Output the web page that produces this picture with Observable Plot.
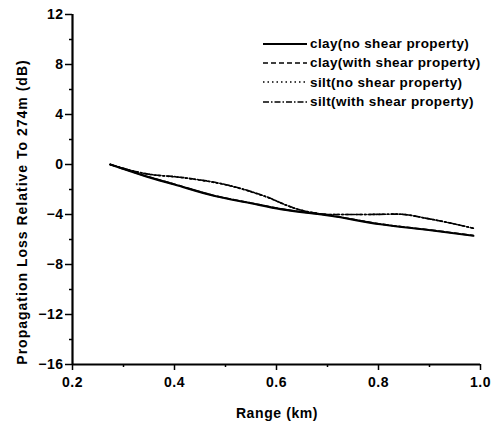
<!DOCTYPE html>
<html>
<head>
<meta charset="utf-8">
<script src="https://cdn.jsdelivr.net/npm/d3@7"></script>
<script src="https://cdn.jsdelivr.net/npm/@observablehq/plot@0.6"></script>
<style>
  html, body { margin: 0; padding: 0; background: #fff; }
  #wrap { position: relative; width: 495px; height: 423px; font-family: "Liberation Sans", Arial, sans-serif; color: #000; }
  #ylab { position: absolute; left: 22px; top: 212px; transform: translate(-50%, -50%) rotate(-90deg); white-space: nowrap; font-size: 14px; font-weight: bold; letter-spacing: 1px; }
  #xlab { position: absolute; left: 277px; top: 413px; transform: translate(-50%, -50%); white-space: nowrap; font-size: 14px; font-weight: bold; letter-spacing: 0.6px; }
  #legend { position: absolute; left: 262px; top: 34px; font-size: 13.5px; font-weight: bold; line-height: 19.3px; letter-spacing: 0.4px; }
  #legend div { display: flex; align-items: center; }
  #legend svg { margin-right: 2px; }
</style>
</head>
<body>
<div id="wrap">
  <div id="chart"></div>
  <div id="ylab"></div>
  <div id="xlab"></div>
  <div id="legend"></div>
</div>
<script>
// Data
const seriesNames = ["clay(no shear property)", "clay(with shear property)", "silt(no shear property)", "silt(with shear property)"];
const rangeClay = [0.274, 0.346, 0.40, 0.477, 0.55, 0.608, 0.706, 0.804, 0.902, 0.986];
const lossClayNoShear = [0, -0.97, -1.6, -2.5, -3.1, -3.57, -4.1, -4.78, -5.26, -5.7];
const lossClayShear = [0, -0.95, -1.58, -2.48, -3.08, -3.55, -4.08, -4.76, -5.24, -5.68];
const rangeSilt = [0.274, 0.346, 0.412, 0.51, 0.575, 0.641, 0.706, 0.771, 0.837, 0.902, 0.986];
const lossSiltNoShear = [0, -0.76, -1.04, -1.72, -2.52, -3.57, -4.0, -4.0, -3.97, -4.37, -5.1];
const lossSiltShear = [0, -0.75, -1.02, -1.7, -2.5, -3.57, -4.0, -4.0, -3.97, -4.37, -5.1];
const xTicks = [0.2, 0.4, 0.6, 0.8, 1.0];
const xMinorTicks = [0.3, 0.5, 0.7, 0.9];
const yTicks = [12, 8, 4, 0, -4, -8, -12, -16];
const yMinorTicks = [10, 6, 2, -2, -6, -10, -14];
const xTitle = "Range (km)";
const yTitle = "Propagation Loss Relative To 274m (dB)";
const dashes = ["none", "5,3", "1.5,3", "6,2,1.5,2"];

const table = [];
[[rangeClay, lossClayNoShear], [rangeClay, lossClayShear], [rangeSilt, lossSiltNoShear], [rangeSilt, lossSiltShear]]
  .forEach(([xs, ys], k) => xs.forEach((x, i) => table.push({series: seriesNames[k], range: x, loss: ys[i]})));

const font = "Liberation Sans, Arial, sans-serif";
const chart = Plot.plot({
  width: 495,
  height: 423,
  marginTop: 14,
  marginLeft: 72,
  marginRight: 15,
  marginBottom: 59,
  style: {fontFamily: font, fontSize: "14px", fontWeight: "bold", color: "#000", background: "#fff", letterSpacing: "0.5px"},
  x: {domain: [0.2, 1.0]},
  y: {domain: [-16, 12]},
  marks: [
    Plot.axisX({ticks: xTicks, tickFormat: d => d.toFixed(1), tickSize: 6, tickPadding: 7, strokeWidth: 1.5, label: null}),
    Plot.axisX({ticks: xMinorTicks, tickSize: 3, text: null, label: null, strokeWidth: 1.5}),
    Plot.axisY({ticks: yTicks, tickSize: 7, tickPadding: 2, strokeWidth: 1.5, label: null}),
    Plot.axisY({ticks: yMinorTicks, tickSize: 3, text: null, label: null, strokeWidth: 1.5}),
    Plot.ruleX([0.2], {strokeWidth: 2.2}),
    Plot.ruleY([-16], {strokeWidth: 2.2}),
    ...seriesNames.map((name, k) => Plot.line(table.filter(d => d.series === name), {
      x: "range", y: "loss", curve: "monotone-x", stroke: "#000",
      strokeWidth: k === 0 ? 2.2 : 1.6, strokeDasharray: dashes[k]
    }))
  ]
});
document.getElementById("chart").appendChild(chart);

document.getElementById("ylab").textContent = yTitle;
document.getElementById("xlab").textContent = xTitle;
const legend = document.getElementById("legend");
seriesNames.forEach((name, k) => {
  const row = document.createElement("div");
  row.innerHTML = `<svg width="46" height="6"><line x1="1" y1="3" x2="45" y2="3" stroke="#000" stroke-width="${k === 0 ? 2 : 1.6}" stroke-dasharray="${dashes[k]}"/></svg><span>${name}</span>`;
  legend.appendChild(row);
});
</script>
</body>
</html>
